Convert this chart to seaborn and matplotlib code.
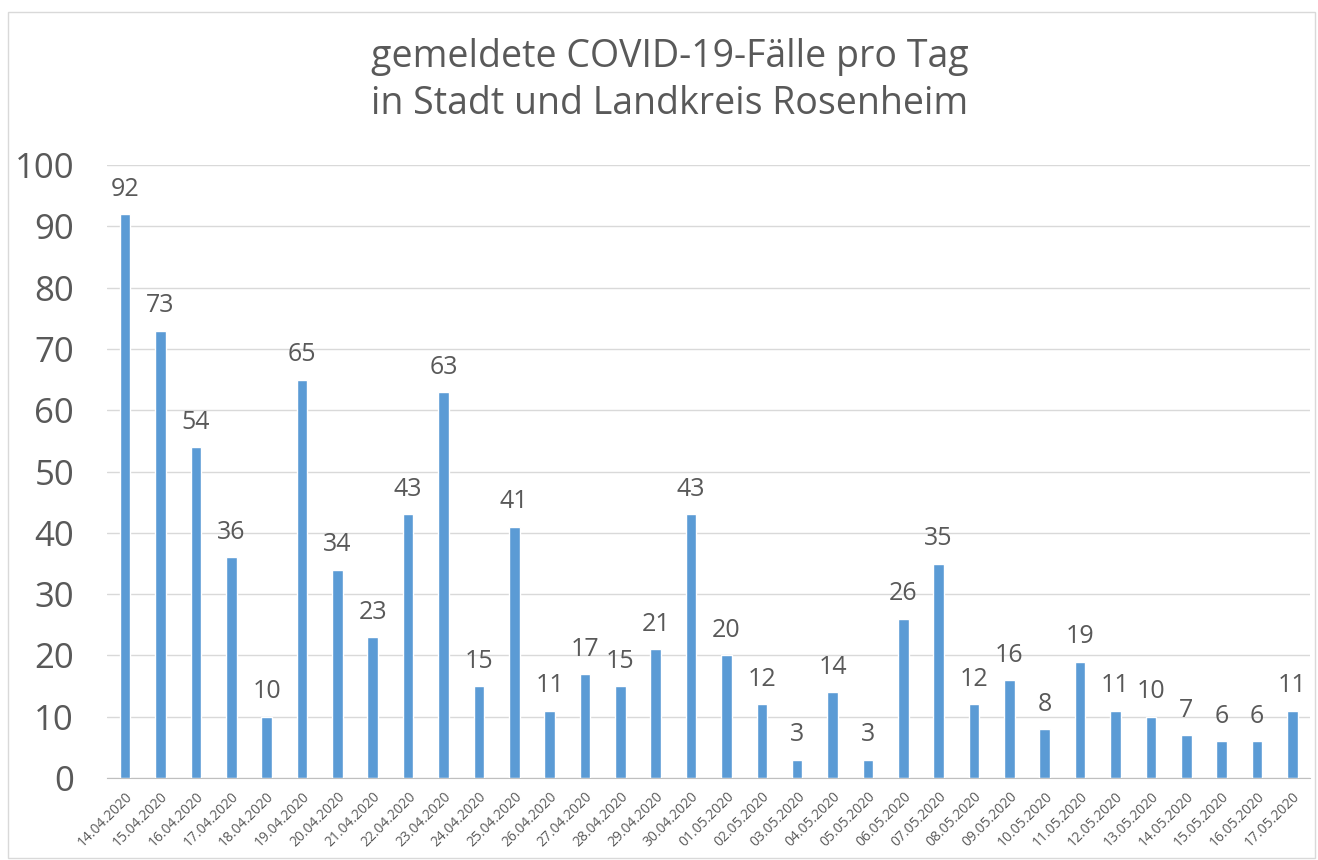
import matplotlib.pyplot as plt
import matplotlib.patches as patches
import numpy as np
import pandas as pd
import seaborn as sns

# Daten: gemeldete Faelle pro Tag
tage = ['14.04.2020', '15.04.2020', '16.04.2020', '17.04.2020', '18.04.2020',
        '19.04.2020', '20.04.2020', '21.04.2020', '22.04.2020', '23.04.2020',
        '24.04.2020', '25.04.2020', '26.04.2020', '27.04.2020', '28.04.2020',
        '29.04.2020', '30.04.2020', '01.05.2020', '02.05.2020', '03.05.2020',
        '04.05.2020', '05.05.2020', '06.05.2020', '07.05.2020', '08.05.2020',
        '09.05.2020', '10.05.2020', '11.05.2020', '12.05.2020', '13.05.2020',
        '14.05.2020', '15.05.2020', '16.05.2020', '17.05.2020']
faelle = [92, 73, 54, 36, 10, 65, 34, 23, 43, 63, 15, 41, 11, 17, 15, 21, 43,
          20, 12, 3, 14, 3, 26, 35, 12, 16, 8, 19, 11, 10, 7, 6, 6, 11]
titel = 'gemeldete COVID-19-Fälle pro Tag\nin Stadt und Landkreis Rosenheim'
yticks = [0, 10, 20, 30, 40, 50, 60, 70, 80, 90, 100]

df = pd.DataFrame({'Tag': tage, 'Faelle': faelle})

sns.set_style('white')
plt.rcParams['font.family'] = ['Open Sans', 'DejaVu Sans']
grau = '#595959'

fig = plt.figure(figsize=(13.18, 8.6), dpi=100)
ax = fig.add_axes([0.0815, 0.0953, 0.9125, 0.7127])

sns.barplot(data=df, x='Tag', y='Faelle', color='#5B9BD5', width=0.3,
            saturation=1, ax=ax, zorder=3)

for i, v in enumerate(faelle):
    ax.text(i, v + 2.0, str(v), ha='center', va='bottom', fontsize=18, color=grau)

ax.set_ylim(0, 100)
ax.set_xlim(-0.5, len(tage) - 0.5)
ax.set_yticks(yticks)
ax.set_yticklabels([str(t) for t in yticks], fontsize=25, color=grau)
ax.yaxis.grid(True, color='#D9D9D9', linewidth=1, zorder=0)
ax.set_xticks(range(len(tage)))
ax.set_xticklabels(tage, rotation=45, ha='right', rotation_mode='anchor',
                   fontsize=10, color=grau)
ax.set_xticks(np.arange(-0.5, len(tage), 1), minor=True)
ax.tick_params(axis='x', which='major', length=0, pad=8)
ax.tick_params(axis='x', which='minor', length=6, color='#BFBFBF', width=1)
ax.tick_params(axis='y', length=0, pad=24)
ax.set_xlabel('')
ax.set_ylabel('')
for s in ['top', 'right', 'left']:
    ax.spines[s].set_visible(False)
ax.spines['bottom'].set_color('#BFBFBF')

fig.text(0.508, 0.906, titel, ha='center', va='center', fontsize=27,
         color=grau, linespacing=1.3)

rand = patches.Rectangle((0.006, 0.002), 0.992, 0.984, transform=fig.transFigure,
                         fill=False, edgecolor='#D9D9D9', linewidth=1)
fig.patches.append(rand)

fig.savefig('out.png', dpi=100)
